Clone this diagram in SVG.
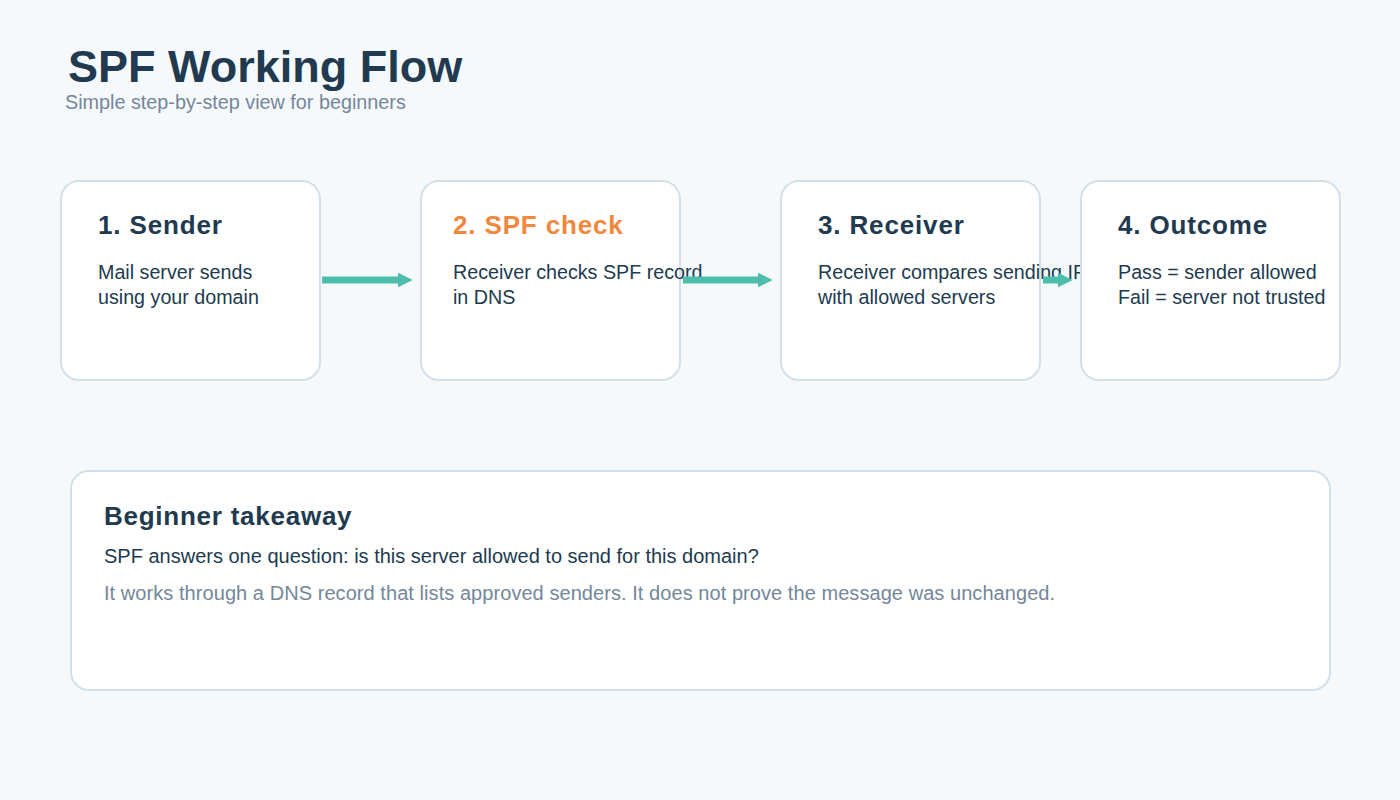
<svg xmlns="http://www.w3.org/2000/svg" width="1400" height="800" viewBox="0 0 1400 800">
<style>
.bg{fill:#f5f9fc}
.card{fill:#ffffff;stroke:#d3e0e9;stroke-width:2}
.t{font-family:"Liberation Sans",Arial,sans-serif}
.h{font-weight:bold;font-size:26px;fill:#213a4f;letter-spacing:0.85px}
.b{font-size:19.7px;fill:#213a4f}
.bb{font-size:20px;fill:#213a4f}
.g{font-size:20px;fill:#74879a;letter-spacing:0.06px}
.conn{stroke:#4dbdac;stroke-width:7;fill:none}
</style>
<defs>
<marker id="ah" viewBox="0 0 10 10" refX="0" refY="5" markerWidth="2.1" markerHeight="2.4" orient="auto" markerUnits="strokeWidth">
<path d="M0,0 L10,5 L0,10 Z" fill="#4dbdac"/>
</marker>
</defs>
<rect class="bg" x="0" y="0" width="1400" height="800"/>
<g id="title">
<text class="t" x="68" y="82" font-size="45" font-weight="bold" fill="#213a4f">SPF Working Flow</text>
<text class="t" x="65" y="109" font-size="19.8" fill="#74879a">Simple step-by-step view for beginners</text>
</g>
<g id="node-sender">
<rect class="card" x="61" y="181" width="259" height="199" rx="18"/>
<text class="t h" x="98" y="234">1. Sender</text>
<text class="t b" x="98" y="279">Mail server sends</text>
<text class="t b" x="98" y="304">using your domain</text>
</g>
<g id="node-spf-check">
<rect class="card" x="421" y="181" width="259" height="199" rx="18"/>
<text class="t h" x="453" y="234" style="fill:#f0883e">2. SPF check</text>
<text class="t b" x="453" y="279">Receiver checks SPF record</text>
<text class="t b" x="453" y="304">in DNS</text>
</g>
<g id="node-receiver">
<rect class="card" x="781" y="181" width="259" height="199" rx="18"/>
<text class="t h" x="818" y="234">3. Receiver</text>
<text class="t b" x="818" y="279">Receiver compares sending IP</text>
<text class="t b" x="818" y="304">with allowed servers</text>
</g>
<g id="node-outcome">
<rect class="card" x="1081" y="181" width="259" height="199" rx="18"/>
<text class="t h" x="1118" y="234">4. Outcome</text>
<text class="t b" x="1118" y="279">Pass = sender allowed</text>
<text class="t b" x="1118" y="304">Fail = server not trusted</text>
</g>
<g id="connectors">
<line class="conn" x1="322" y1="280" x2="398" y2="280" marker-end="url(#ah)"/>
<line class="conn" x1="683" y1="280" x2="758" y2="280" marker-end="url(#ah)"/>
<line class="conn" x1="1043" y1="280" x2="1058" y2="280" marker-end="url(#ah)"/>
</g>
<g id="takeaway">
<rect class="card" x="71" y="471" width="1259" height="219" rx="18"/>
<text class="t" x="104" y="525" font-size="26" font-weight="bold" fill="#213a4f" letter-spacing="0.75">Beginner takeaway</text>
<text class="t bb" x="104" y="563">SPF answers one question: is this server allowed to send for this domain?</text>
<text class="t g" x="104" y="600">It works through a DNS record that lists approved senders. It does not prove the message was unchanged.</text>
</g>
</svg>
